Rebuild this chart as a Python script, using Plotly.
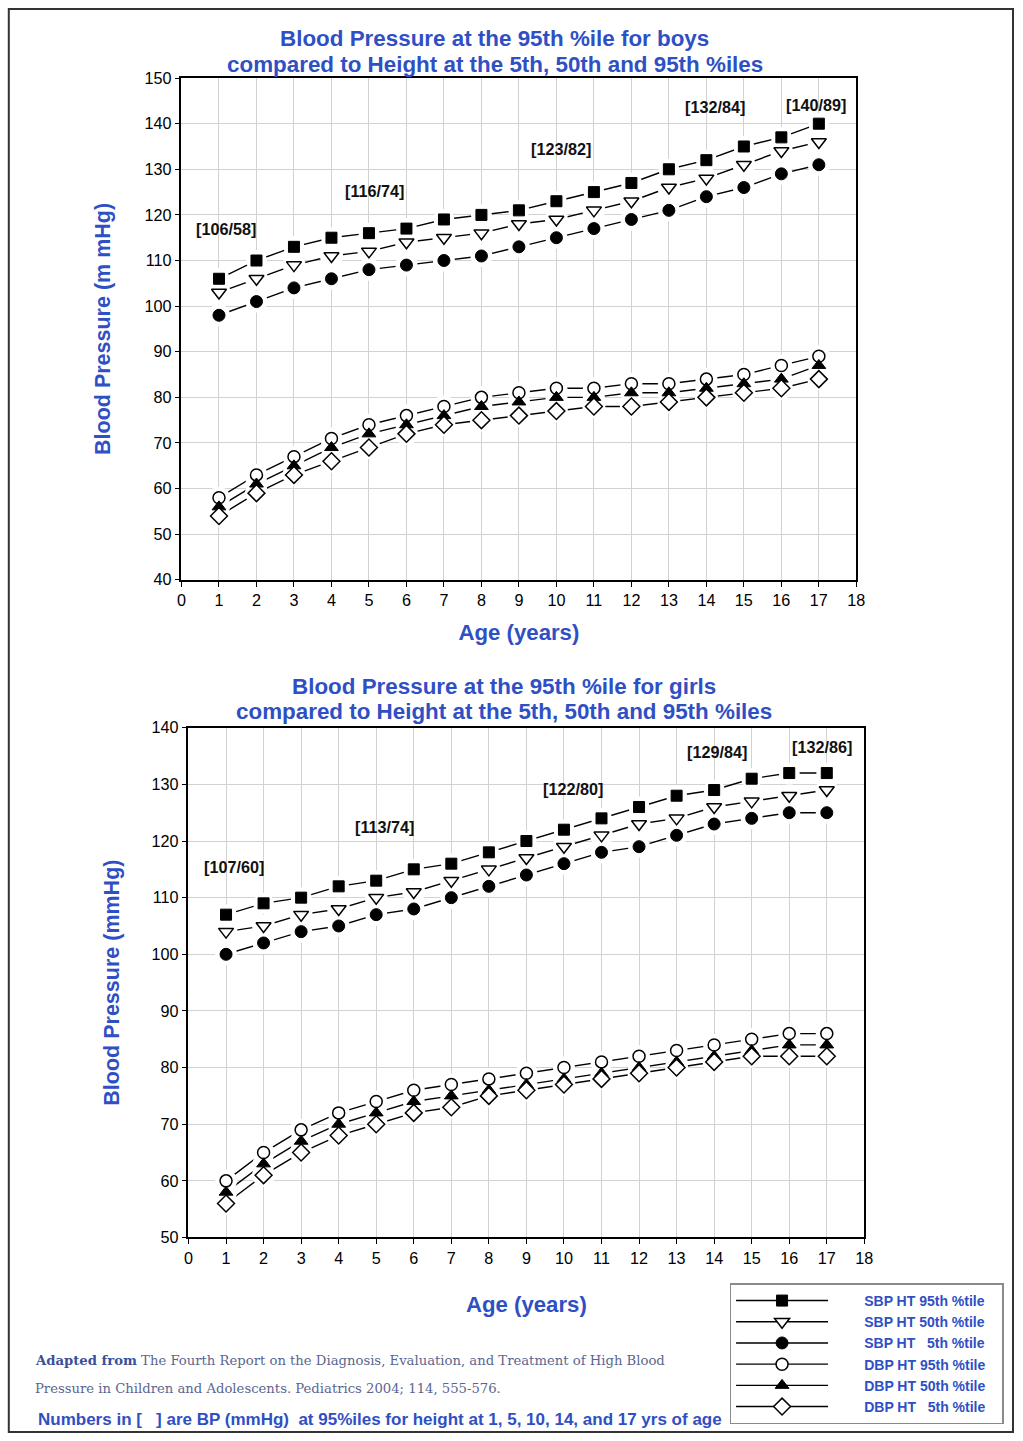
import plotly.graph_objects as go

# ---------------- data ----------------
ages = list(range(1, 18))

boys_sbp95 = [106, 110, 113, 115, 116, 117, 119, 120, 121, 123, 125, 127, 130, 132, 135, 137, 140]
boys_sbp50 = [103, 106, 109, 111, 112, 114, 115, 116, 118, 119, 121, 123, 126, 128, 131, 134, 136]
boys_sbp5 = [98, 101, 104, 106, 108, 109, 110, 111, 113, 115, 117, 119, 121, 124, 126, 129, 131]
boys_dbp95 = [58, 63, 67, 71, 74, 76, 78, 80, 81, 82, 82, 83, 83, 84, 85, 87, 89]
boys_dbp50 = [56, 61, 65, 69, 72, 74, 76, 78, 79, 80, 80, 81, 81, 82, 83, 84, 87]
boys_dbp5 = [54, 59, 63, 66, 69, 72, 74, 75, 76, 77, 78, 78, 79, 80, 81, 82, 84]

girls_sbp95 = [107, 109, 110, 112, 113, 115, 116, 118, 120, 122, 124, 126, 128, 129, 131, 132, 132]
girls_sbp50 = [104, 105, 107, 108, 110, 111, 113, 115, 117, 119, 121, 123, 124, 126, 127, 128, 129]
girls_sbp5 = [100, 102, 104, 105, 107, 108, 110, 112, 114, 116, 118, 119, 121, 123, 124, 125, 125]
girls_dbp95 = [60, 65, 69, 72, 74, 76, 77, 78, 79, 80, 81, 82, 83, 84, 85, 86, 86]
girls_dbp50 = [58, 63, 67, 70, 72, 74, 75, 76, 77, 78, 79, 80, 81, 82, 83, 84, 84]
girls_dbp5 = [56, 61, 65, 68, 70, 72, 73, 75, 76, 77, 78, 79, 80, 81, 82, 82, 82]

series_names = [
    "SBP HT 95th %tile",
    "SBP HT 50th %tile",
    "SBP HT \u00a0\u00a05th %tile",
    "DBP HT 95th %tile",
    "DBP HT 50th %tile",
    "DBP HT \u00a0\u00a05th %tile",
]
label_ages = [1, 5, 10, 14, 17]

x_ticks = list(range(0, 19))
boys_y_ticks = list(range(40, 151, 10))
girls_y_ticks = list(range(50, 141, 10))

# ---------------- style ----------------
W, H = 1023, 1441
BLUE = "#2f4fc4"
FONT = "Liberation Sans, Arial, sans-serif"
# compensation for the slight scale/offset of the photographed page
SC, OX, OY = 0.988, 3.2, 7.9

marker_styles = [
    dict(symbol="square", size=11, color="black", line=dict(color="black", width=1)),
    dict(symbol="triangle-down", size=13, color="white", line=dict(color="black", width=1.5)),
    dict(symbol="circle", size=12, color="black", line=dict(color="black", width=1)),
    dict(symbol="circle", size=12, color="white", line=dict(color="black", width=1.5)),
    dict(symbol="triangle-up", size=12, color="black", line=dict(color="black", width=1)),
    dict(symbol="diamond", size=13, color="white", line=dict(color="black", width=1.5)),
]


def fx(p):
    return min(max(((p - OX) / SC) / W, 0), 1)


def fy(p):
    return min(max(1 - ((p - OY) / SC) / H, 0), 1)


fig = go.Figure()


def add_chart(series, xa, ya):
    # connecting lines
    for ys in series:
        fig.add_trace(go.Scatter(x=ages, y=ys, mode="lines", xaxis=xa, yaxis=ya,
                                 line=dict(color="black", width=1.4),
                                 showlegend=False, hoverinfo="skip"))
    # white halos to create gaps around markers
    for ys, ms in zip(series, marker_styles):
        fig.add_trace(go.Scatter(x=ages, y=ys, mode="markers", xaxis=xa, yaxis=ya,
                                 marker=dict(symbol="circle", size=ms["size"] + 10, color="white",
                                             line=dict(width=0)),
                                 showlegend=False, hoverinfo="skip"))
    # markers
    for ys, ms, name in zip(series, marker_styles, series_names):
        fig.add_trace(go.Scatter(x=ages, y=ys, mode="markers", xaxis=xa, yaxis=ya,
                                 marker=ms, name=name, showlegend=False))


boys = [boys_sbp95, boys_sbp50, boys_sbp5, boys_dbp95, boys_dbp50, boys_dbp5]
girls = [girls_sbp95, girls_sbp50, girls_sbp5, girls_dbp95, girls_dbp50, girls_dbp5]
add_chart(boys, "x", "y")
add_chart(girls, "x2", "y2")

# legend proxies
PAD = "\u00a0" * 8
for ms, name in zip(marker_styles, series_names):
    fig.add_trace(go.Scatter(x=[None], y=[None], mode="lines+markers", xaxis="x", yaxis="y",
                             marker=ms, line=dict(color="black", width=1.4),
                             name=PAD + name + "\u00a0\u00a0\u00a0",
                             showlegend=True))

axis_common = dict(showline=True, linecolor="black", linewidth=1.5, mirror=True,
                   ticks="outside", ticklen=5, tickcolor="black", tickwidth=1,
                   showgrid=True, gridcolor="#d2d2d2", gridwidth=1, zeroline=False,
                   tickfont=dict(family=FONT, size=16.2, color="black"))

title_font = dict(size=22.2, color=BLUE, family=FONT)

fig.update_layout(
    width=W, height=H,
    margin=dict(l=0, r=0, t=0, b=0),
    paper_bgcolor="white", plot_bgcolor="white",
    font=dict(family=FONT),
    xaxis=dict(domain=[fx(180), fx(856)], anchor="y", range=[0, 18], tickvals=x_ticks,
               title=dict(text="<b>Age (years)</b>", font=title_font, standoff=16),
               **axis_common),
    yaxis=dict(domain=[fy(579), fy(77)], anchor="x", range=[40, 150], tickvals=boys_y_ticks,
               title=dict(text="<b>Blood Pressure (m mHg)</b>", font=dict(size=21.5, color=BLUE, family=FONT),
                          standoff=28),
               **axis_common),
    xaxis2=dict(domain=[fx(187), fx(864)], anchor="y2", range=[0, 18], tickvals=x_ticks,
                title=dict(text="<b>Age (years)</b>", font=title_font, standoff=31),
                **axis_common),
    yaxis2=dict(domain=[fy(1237), fy(727)], anchor="x2", range=[50, 140], tickvals=girls_y_ticks,
                title=dict(text="<b>Blood Pressure (mmHg)</b>", font=dict(size=21.5, color=BLUE, family=FONT),
                           standoff=26),
                **axis_common),
    legend=dict(x=fx(729), y=fy(1283), xanchor="left", yanchor="top",
                bgcolor="white", bordercolor="#8a8a8a", borderwidth=1.5,
                font=dict(family=FONT, size=14, color=BLUE, weight="bold"),
                itemwidth=92, tracegroupgap=0),
    showlegend=True,
)

annotations = []
# titles (one annotation per line)
title_lines = [
    ("Blood Pressure at the 95th %ile for boys", 494, 37),
    ("compared to Height at the 5th, 50th and 95th %iles", 494, 63),
    ("Blood Pressure at the 95th %ile for girls", 503, 686),
    ("compared to Height at the 5th, 50th and 95th %iles", 503, 711),
]
for txt, px_, py_ in title_lines:
    annotations.append(dict(xref="paper", yref="paper", x=fx(px_), y=fy(py_), xanchor="center",
                            yanchor="middle", showarrow=False, text=f"<b>{txt}</b>",
                            font=dict(family=FONT, size=22.4, color=BLUE)))

# bracket labels
boys_label_pos = [(1.2, 117), (5.14, 125.2), (10.12, 134.4), (14.22, 143.6), (16.93, 144.1)]
girls_label_pos = [(1.22, 115.5), (5.21, 122.5), (10.24, 129.2), (14.07, 135.8), (16.88, 136.6)]
for a, (lx, ly) in zip(label_ages, boys_label_pos):
    i = ages.index(a)
    annotations.append(dict(xref="x", yref="y", x=lx, y=ly, showarrow=False,
                            text=f"<b>[{boys_sbp95[i]}/{boys_dbp95[i]}]</b>",
                            font=dict(family=FONT, size=16.2, color="#111111")))
for a, (lx, ly) in zip(label_ages, girls_label_pos):
    i = ages.index(a)
    annotations.append(dict(xref="x2", yref="y2", x=lx, y=ly, showarrow=False,
                            text=f"<b>[{girls_sbp95[i]}/{girls_dbp95[i]}]</b>",
                            font=dict(family=FONT, size=16.2, color="#111111")))

# footer
annotations.append(dict(xref="paper", yref="paper", x=fx(31), y=fy(1360), xanchor="left",
                        yanchor="middle", showarrow=False,
                        text="<b>Adapted from</b> <span style='color:#5a6690'>The Fourth Report on the Diagnosis, Evaluation, and Treatment of High Blood</span>",
                        font=dict(family="DejaVu Serif, serif", size=13.2, color="#3a4f9a")))
annotations.append(dict(xref="paper", yref="paper", x=fx(31), y=fy(1388), xanchor="left",
                        yanchor="middle", showarrow=False,
                        text="Pressure in Children and Adolescents. Pediatrics 2004; 114, 555-576.",
                        font=dict(family="DejaVu Serif, serif", size=13.2, color="#5a6690")))
annotations.append(dict(xref="paper", yref="paper", x=fx(34), y=fy(1419), xanchor="left",
                        yanchor="middle", showarrow=False,
                        text="<b>Numbers in [ \u00a0\u00a0] are BP (mmHg) \u00a0at 95%iles for height at 1, 5, 10, 14, and 17 yrs of age</b>",
                        font=dict(family=FONT, size=17, color=BLUE)))
fig.update_layout(annotations=annotations)

# outer frame
fig.add_shape(type="rect", xref="paper", yref="paper", x0=fx(7), x1=0.999, y0=fy(1437), y1=fy(6),
              line=dict(color="#333333", width=2), fillcolor="rgba(0,0,0,0)", layer="below")

post = (
    "document.body.style.margin='0px';"
    "document.body.style.overflow='hidden';"
    "var gd=document.getElementById('{plot_id}');"
    "gd.style.position='absolute';gd.style.left='0px';gd.style.top='0px';"
)
fig.write_html("out.html", config={"displayModeBar": False}, post_script=post)
